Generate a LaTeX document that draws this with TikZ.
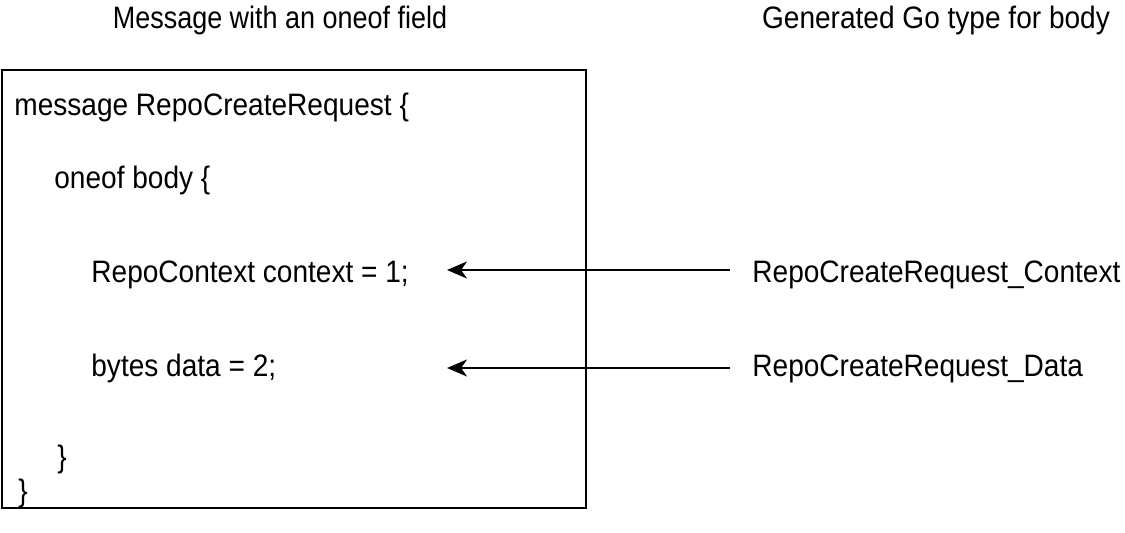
\documentclass[tikz,border=0pt]{standalone}
\usepackage{fontspec}
\setmainfont{Liberation Sans}[FakeStretch=0.905]
\newfontfamily\narrowfont{Liberation Sans}[FakeStretch=0.87]
\usetikzlibrary{arrows.meta}
\begin{document}
\begin{tikzpicture}[x=0.5pt,y=-0.5pt,
  txt/.style={anchor=base west,inner sep=0pt,font=\fontsize{15.5}{18}\selectfont},
  ttl/.style={anchor=base,inner sep=0pt,font=\fontsize{15.5}{18}\selectfont},
  conn/.style={line width=1pt,-{Stealth[length=10pt,width=8.5pt,inset=3pt]}}]
\useasboundingbox (0,0) rectangle (1125,533);
\node[ttl,font=\fontsize{15.5}{18}\narrowfont] (t1) at (280,29) {Message with an oneof field};
\node[ttl] (t2) at (936,29) {Generated Go type for body};
\draw[line width=1pt] (2,70) rectangle (586,508);
\node[txt] (l1) at (14,116) {message RepoCreateRequest \{};
\node[txt] (l2) at (54,189) {oneof body \{};
\node[txt] (l3) at (91,283) {RepoContext context = 1;};
\node[txt] (l4) at (91,377) {bytes data = 2;};
\node[txt] (l5) at (57,468) {\}};
\node[txt] (l6) at (18,502) {\}};
\node[txt] (r1) at (752,283) {RepoCreateRequest\_Context};
\node[txt] (r2) at (752,377) {RepoCreateRequest\_Data};
\coordinate (a1) at (447,270);
\coordinate (a2) at (447,368);
\draw[conn] (r1.west |- a1) ++(-22,0) -- (a1);
\draw[conn] (r2.west |- a2) ++(-22,0) -- (a2);
\end{tikzpicture}
\end{document}
